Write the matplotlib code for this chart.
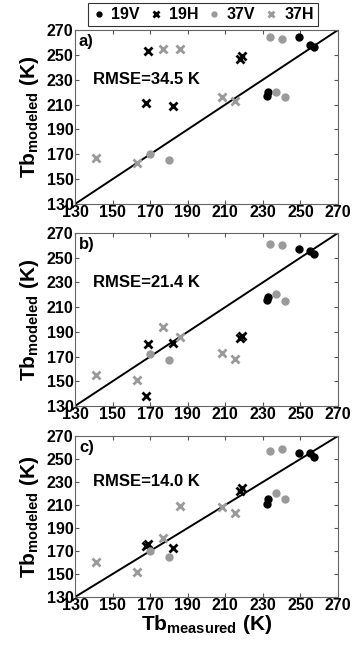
import numpy as np
import matplotlib.pyplot as plt

plt.rcParams['font.family'] = ['Liberation Sans', 'DejaVu Sans']
plt.rcParams['font.weight'] = 'bold'
plt.rcParams['mathtext.fontset'] = 'custom'
plt.rcParams['mathtext.rm'] = 'Liberation Sans:bold'
plt.rcParams['mathtext.bf'] = 'Liberation Sans:bold'

# measured Tb (same in every panel)
x_19v = [232, 233, 249, 255, 257]
x_19h = [168, 169, 182, 218, 219]
x_37v = [170, 180, 234, 237, 240, 242]
x_37h = [141, 163, 177, 186, 208, 215]

# modeled Tb, panels a), b), c)
y_19v = [[217, 220, 264, 258, 256],
         [216, 218, 257, 255, 253],
         [211, 215, 255, 255, 252]]
y_19h = [[211, 253, 209, 247, 249],
         [138, 180, 181, 185, 187],
         [174, 176, 173, 222, 225]]
y_37v = [[170, 165, 264, 220, 263, 216],
         [172, 167, 261, 221, 260, 215],
         [170, 165, 257, 220, 259, 215]]
y_37h = [[167, 163, 255, 255, 216, 213],
         [155, 151, 194, 186, 173, 168],
         [160, 152, 181, 209, 208, 203]]

panel_labels = ['a)', 'b)', 'c)']
rmse = [34.5, 21.4, 14.0]
ticks = [130, 150, 170, 190, 210, 230, 250, 270]

gray = '#9a9a9a'
fig = plt.figure(figsize=(3.53, 6.48), dpi=100)
# [left, bottom, width, height] in figure fraction
boxes = [[0.2125, 0.6852, 0.745, 0.2685],
         [0.2125, 0.3735, 0.745, 0.2670],
         [0.2125, 0.0787, 0.745, 0.2485]]

for i in range(3):
    ax = fig.add_axes(boxes[i])
    ax.plot([130, 270], [130, 270], color='black', lw=1.4, zorder=1)
    ax.plot(x_19v, y_19v[i], 'o', color='black', ms=5, label='19V')
    ax.plot(x_19h, y_19h[i], 'x', color='black', ms=5.5, mew=2, label='19H')
    ax.plot(x_37v, y_37v[i], 'o', color=gray, ms=5, label='37V')
    ax.plot(x_37h, y_37h[i], 'x', color=gray, ms=5.5, mew=2, label='37H')
    ax.set_xlim(130, 270)
    ax.set_ylim(130, 270)
    ax.set_xticks(ticks)
    ax.set_yticks(ticks)
    ax.tick_params(direction='in', top=True, right=True, length=3,
                   labelsize=11.5, pad=1, color='#555555')
    for s in ax.spines.values():
        s.set_color('#666666')
        s.set_linewidth(0.8)
    ax.text(0.015, 0.975, panel_labels[i], transform=ax.transAxes,
            fontsize=12, fontweight='bold', va='top', ha='left')
    ax.text(0.07, 0.715, 'RMSE=%.1f K' % rmse[i], transform=ax.transAxes,
            fontsize=12, fontweight='bold', va='center', ha='left')
    ax.set_ylabel(r'$\mathbf{Tb}_{\mathbf{modeled}}$ (K)', fontsize=15,
                  fontweight='bold', labelpad=4)
    if i == 0:
        handles, labels = ax.get_legend_handles_labels()
    if i == 2:
        ax.set_xlabel(r'$\mathbf{Tb}_{\mathbf{measured}}$ (K)', fontsize=15,
                      fontweight='bold', labelpad=0)

leg = fig.legend(handles, labels, ncol=4, loc='center',
                 bbox_to_anchor=(0.575, 0.977), fontsize=11.5,
                 handlelength=0.8, handletextpad=0.4, columnspacing=0.6,
                 borderpad=0.25, fancybox=False, markerscale=0.7)
leg.get_frame().set_edgecolor('black')
leg.get_frame().set_linewidth(0.8)

plt.savefig('out.png', dpi=100)
